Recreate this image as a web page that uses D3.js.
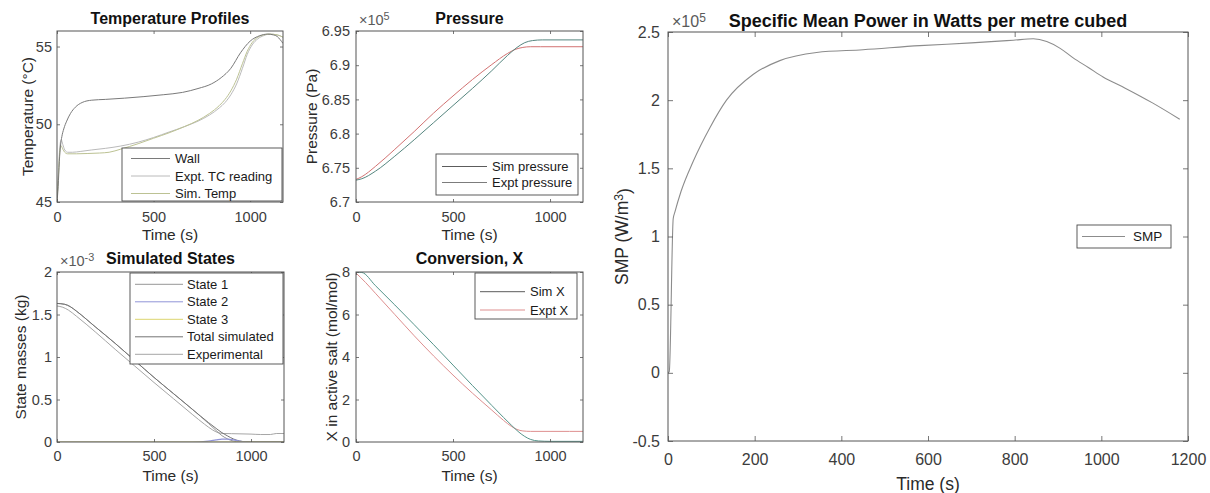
<!DOCTYPE html>
<html>
<head>
<meta charset="utf-8">
<script src="https://cdn.jsdelivr.net/npm/d3@7"></script>
<style>
  html, body { margin: 0; padding: 0; background: #fff; }
  svg { display: block; font-family: "Liberation Sans", Arial, Helvetica, sans-serif; }
</style>
</head>
<body>
<svg id="fig" width="1210" height="493"></svg>
<script>
// ---------- tick labels ----------
const timeTicksSmall = [0, 500, 1000];
const timeTicksLarge = [0, 200, 400, 600, 800, 1000, 1200];
const tempTicks = [45, 50, 55];
const pressureTicks = [6.7, 6.75, 6.8, 6.85, 6.9, 6.95];      // x 10^5 Pa
const massTicks = [0, 0.5, 1, 1.5, 2];                        // x 10^-3 kg
const conversionTicks = [0, 2, 4, 6, 8];
const smpTicks = [-0.5, 0, 0.5, 1, 1.5, 2, 2.5];              // x 10^5 W/m^3

// ---------- temperature profiles (deg C) ----------
const wallTime = [0, 6, 12, 18, 25, 35, 50, 70, 95, 130, 180, 250, 350, 450, 550, 650, 730, 800, 850, 900, 950, 1000, 1050, 1090, 1120, 1140, 1155, 1170];
const wallTemp = [45.0, 46.0, 47.6, 48.6, 49.2, 49.7, 50.2, 50.7, 51.1, 51.4, 51.55, 51.6, 51.68, 51.78, 51.9, 52.05, 52.3, 52.6, 53.0, 53.6, 54.6, 55.35, 55.7, 55.8, 55.75, 55.65, 55.45, 55.2];

const tcTime = [0, 8, 15, 22, 30, 40, 55, 80, 120, 180, 250, 330, 420, 500, 580, 660, 730, 790, 840, 870, 900, 930, 960, 985, 1010, 1040, 1070, 1100, 1140, 1170];
const tcTemp = [45.0, 47.0, 48.6, 49.0, 48.7, 48.35, 48.2, 48.2, 48.25, 48.35, 48.45, 48.6, 48.85, 49.15, 49.5, 49.85, 50.2, 50.6, 51.05, 51.4, 51.9, 52.6, 53.6, 54.5, 55.1, 55.5, 55.7, 55.8, 55.75, 55.6];

const simTempTime = [0, 8, 15, 22, 30, 40, 55, 100, 160, 220, 270, 330, 420, 500, 580, 660, 730, 790, 840, 870, 900, 930, 960, 985, 1010, 1040, 1070, 1100, 1140, 1170];
const simTemp = [45.0, 46.8, 48.3, 48.6, 48.4, 48.2, 48.1, 48.1, 48.12, 48.15, 48.2, 48.4, 48.75, 49.1, 49.45, 49.85, 50.25, 50.7, 51.2, 51.6, 52.15, 52.9, 53.9, 54.7, 55.25, 55.6, 55.75, 55.8, 55.75, 55.6];

// ---------- pressure (x 10^5 Pa) ----------
const simPressureTime = [0, 30, 100, 200, 300, 400, 500, 600, 700, 780, 830, 870, 910, 960, 1170];
const simPressure = [6.732, 6.734, 6.745, 6.767, 6.791, 6.816, 6.841, 6.866, 6.892, 6.914, 6.926, 6.933, 6.936, 6.937, 6.937];
const exptPressureTime = [0, 30, 100, 200, 300, 400, 500, 600, 700, 780, 820, 860, 900, 950, 1170];
const exptPressure = [6.733, 6.737, 6.752, 6.777, 6.803, 6.830, 6.855, 6.879, 6.901, 6.917, 6.923, 6.926, 6.927, 6.927, 6.927];

// ---------- simulated states (x 10^-3 kg) ----------
const stateTime = [0, 40, 70, 100, 200, 300, 400, 500, 600, 700, 780, 820, 850, 880, 910, 940, 970, 1000, 1050, 1100, 1170];
const state1 = [1.63, 1.62, 1.59, 1.54, 1.35, 1.16, 0.96, 0.76, 0.57, 0.38, 0.22, 0.135, 0.075, 0.035, 0.01, 0.002, 0, 0, 0, 0, 0];
const state2 = [0, 0, 0, 0, 0, 0, 0, 0, 0, 0, 0.01, 0.025, 0.035, 0.035, 0.025, 0.011, 0.003, 0, 0, 0, 0];
const state3 = [0, 0, 0, 0, 0, 0, 0, 0, 0, 0, 0, 0, 0, 0, 0, 0, 0, 0, 0, 0, 0];
const totalSimulated = [1.63, 1.62, 1.59, 1.54, 1.35, 1.16, 0.96, 0.76, 0.57, 0.38, 0.23, 0.16, 0.11, 0.07, 0.035, 0.013, 0.003, 0, 0, 0, 0];
const exptMassTime = [0, 30, 60, 100, 200, 300, 400, 500, 600, 700, 760, 800, 830, 860, 900, 1000, 1050, 1100, 1130, 1170];
const exptMass = [1.60, 1.585, 1.55, 1.48, 1.29, 1.09, 0.895, 0.70, 0.51, 0.32, 0.21, 0.145, 0.11, 0.10, 0.098, 0.093, 0.088, 0.088, 0.10, 0.10];

// ---------- conversion X (mol/mol) ----------
const simXTime = [0, 30, 100, 200, 300, 400, 500, 600, 700, 760, 800, 840, 870, 900, 940, 1000, 1170];
const simX = [8.0, 7.98, 7.36, 6.45, 5.52, 4.58, 3.62, 2.66, 1.72, 1.16, 0.8, 0.46, 0.26, 0.12, 0.05, 0.03, 0.03];
const exptXTime = [0, 50, 100, 200, 300, 400, 500, 600, 700, 760, 800, 830, 860, 900, 1000, 1100, 1170];
const exptX = [7.95, 7.5, 7.0, 6.0, 5.0, 4.05, 3.15, 2.3, 1.5, 1.02, 0.74, 0.59, 0.52, 0.5, 0.5, 0.5, 0.5];

// ---------- specific mean power (x 10^5 W/m^3) ----------
const smpTime = [0, 3, 12, 16, 30, 58, 97, 135, 197, 258, 343, 450, 581, 700, 797, 843, 874, 905, 935, 970, 1004, 1054, 1118, 1181];
const smp = [0, 0.01, 1.13, 1.18, 1.33, 1.55, 1.80, 2.0, 2.19, 2.29, 2.35, 2.37, 2.40, 2.42, 2.44, 2.45, 2.43, 2.38, 2.31, 2.24, 2.17, 2.09, 1.98, 1.86];

// ---------- drawing ----------
const svg = d3.select('#fig');
const defs = svg.append('defs');
const AXIS_COLOR = '#555555';
const TICK_TEXT = '#3c3c3c';
const fmt = d => String(d);

function makePanel(o) {
  const g = svg.append('g');
  const x = d3.scaleLinear().domain(o.xDomain).range([o.x0, o.x1]);
  const y = d3.scaleLinear().domain(o.yDomain).range([o.y1, o.y0]);
  const clipId = 'clip-' + o.id;
  defs.append('clipPath').attr('id', clipId).append('rect')
    .attr('x', o.x0).attr('y', o.y0).attr('width', o.x1 - o.x0).attr('height', o.y1 - o.y0);
  g.append('rect').attr('x', o.x0).attr('y', o.y0)
    .attr('width', o.x1 - o.x0).attr('height', o.y1 - o.y0).attr('fill', '#fff');
  const plot = g.append('g').attr('clip-path', `url(#${clipId})`);
  return { o, g, x, y, plot };
}

function addLine(p, xs, ys, color, width) {
  const line = d3.line().x(d => p.x(d[0])).y(d => p.y(d[1])).curve(d3.curveMonotoneX);
  p.plot.append('path').datum(d3.zip(xs, ys))
    .attr('d', line).attr('fill', 'none')
    .attr('stroke', color).attr('stroke-width', width || 1)
    .attr('stroke-linejoin', 'round');
}

function styleAxis(sel, fontSize) {
  sel.attr('font-family', null).attr('font-size', fontSize);
  sel.select('.domain').remove();
  sel.selectAll('line').attr('stroke', AXIS_COLOR).attr('stroke-width', 0.8);
  sel.selectAll('text').attr('fill', TICK_TEXT);
}

function finishPanel(p) {
  const o = p.o, g = p.g;
  const tl = o.tickLen;
  styleAxis(g.append('g').attr('transform', `translate(0,${o.y1})`)
    .call(d3.axisBottom(p.x).tickValues(o.xTicks).tickSize(-tl).tickPadding(o.xPad).tickFormat(fmt)), o.tickFont);
  styleAxis(g.append('g').attr('transform', `translate(0,${o.y0})`)
    .call(d3.axisTop(p.x).tickValues(o.xTicks).tickSize(-tl).tickFormat('')), o.tickFont);
  styleAxis(g.append('g').attr('transform', `translate(${o.x0},0)`)
    .call(d3.axisLeft(p.y).tickValues(o.yTicks).tickSize(-tl).tickPadding(o.yPad).tickFormat(fmt)), o.tickFont);
  styleAxis(g.append('g').attr('transform', `translate(${o.x1},0)`)
    .call(d3.axisRight(p.y).tickValues(o.yTicks).tickSize(-tl).tickFormat('')), o.tickFont);

  g.append('rect').attr('x', o.x0).attr('y', o.y0)
    .attr('width', o.x1 - o.x0).attr('height', o.y1 - o.y0)
    .attr('fill', 'none').attr('stroke', AXIS_COLOR).attr('stroke-width', 1);

  const cx = (o.x0 + o.x1) / 2, cy = (o.y0 + o.y1) / 2;
  g.append('text').attr('x', cx).attr('y', o.titleY).attr('text-anchor', 'middle')
    .attr('font-size', o.titleFont).attr('font-weight', 'bold').attr('fill', '#111')
    .text(o.title);
  g.append('text').attr('x', cx).attr('y', o.xLabelY).attr('text-anchor', 'middle')
    .attr('font-size', o.labelFont).attr('fill', '#2a2a2a').text(o.xLabel);

  const yl = g.append('text')
    .attr('transform', `translate(${o.yLabelX},${cy}) rotate(-90)`)
    .attr('text-anchor', 'middle').attr('font-size', o.labelFont).attr('fill', '#2a2a2a');
  yl.append('tspan').text(o.yLabel);
  if (o.yLabelSup) {
    yl.append('tspan').attr('dy', '-0.45em').attr('font-size', o.labelFont * 0.7).text(o.yLabelSup);
    yl.append('tspan').attr('dy', '0.45em').text(o.yLabelTail);
  }

  if (o.exponent) {
    const t = g.append('text').attr('x', o.x0 + o.expDx).attr('y', o.y0 - o.expDy)
      .attr('font-size', o.tickFont).attr('fill', '#5a5a5a');
    t.append('tspan').text('\u00d710');
    t.append('tspan').attr('dy', '-0.45em').attr('font-size', o.tickFont * 0.75).text(o.exponent);
  }
}

function addLegend(p, box, items, fontSize) {
  const g = p.g.append('g');
  g.append('rect').attr('x', box.x).attr('y', box.y).attr('width', box.w).attr('height', box.h)
    .attr('fill', '#fff').attr('stroke', '#4a4a4a').attr('stroke-width', 0.9);
  items.forEach((it, i) => {
    const yy = box.y + box.first + i * box.step;
    g.append('line').attr('x1', box.x + box.l0).attr('x2', box.x + box.l1)
      .attr('y1', yy).attr('y2', yy).attr('stroke', it.color).attr('stroke-width', 1);
    g.append('text').attr('x', box.x + box.tx).attr('y', yy).attr('dy', '0.35em')
      .attr('font-size', fontSize).attr('fill', '#1a1a1a').text(it.label);
  });
}

const small = { tickLen: 3, tickFont: 14.5, titleFont: 16, labelFont: 15.5 };

// Temperature profiles
const pT = makePanel(Object.assign({}, small, {
  id: 'temp', x0: 57, x1: 283, y0: 31, y1: 202,
  xDomain: [0, 1170], yDomain: [45, 56], xTicks: timeTicksSmall, yTicks: tempTicks,
  xPad: 10, yPad: 5, title: 'Temperature Profiles', titleY: 24,
  xLabel: 'Time (s)', xLabelY: 240, yLabel: 'Temperature (\u00b0C)', yLabelX: 33
}));
const cWall = '#7a7a7a', cTC = '#bababa', cSimT = '#bcc293';
addLine(pT, tcTime, tcTemp, cTC, 1);
addLine(pT, simTempTime, simTemp, cSimT, 1);
addLine(pT, wallTime, wallTemp, cWall, 1);
finishPanel(pT);
addLegend(pT, { x: 122, y: 148, w: 160, h: 53, first: 10.5, step: 17.5, l0: 9, l1: 48, tx: 53 },
  [{ label: 'Wall', color: cWall }, { label: 'Expt. TC reading', color: cTC }, { label: 'Sim. Temp', color: cSimT }], 13);

// Pressure
const pP = makePanel(Object.assign({}, small, {
  id: 'pres', x0: 356, x1: 583, y0: 31, y1: 202,
  xDomain: [0, 1170], yDomain: [6.7, 6.95], xTicks: timeTicksSmall, yTicks: pressureTicks,
  xPad: 10, yPad: 6, title: 'Pressure', titleY: 24,
  xLabel: 'Time (s)', xLabelY: 240, yLabel: 'Pressure (Pa)', yLabelX: 317,
  exponent: '5', expDx: 3, expDy: 6
}));
const cSimP = '#56867f', cExpP = '#d27272';
addLine(pP, exptPressureTime, exptPressure, cExpP, 1);
addLine(pP, simPressureTime, simPressure, cSimP, 1);
finishPanel(pP);
addLegend(pP, { x: 436, y: 154, w: 142, h: 41, first: 12.5, step: 16, l0: 6, l1: 51, tx: 56 },
  [{ label: 'Sim pressure', color: '#5c5c5c' }, { label: 'Expt pressure', color: '#7c7c7c' }], 13);

// Simulated states
const pS = makePanel(Object.assign({}, small, {
  id: 'states', x0: 57, x1: 284, y0: 272, y1: 442,
  xDomain: [0, 1170], yDomain: [0, 2], xTicks: timeTicksSmall, yTicks: massTicks,
  xPad: 9, yPad: 5, title: 'Simulated States', titleY: 264,
  xLabel: 'Time (s)', xLabelY: 481, yLabel: 'State masses (kg)', yLabelX: 26,
  exponent: '-3', expDx: 3, expDy: 6
}));
const cS1 = '#979797', cS2 = '#9194d8', cS3 = '#dcd56e', cTot = '#747474', cExpM = '#a6a6a6';
addLine(pS, exptMassTime, exptMass, cExpM, 1);
addLine(pS, stateTime, state1, cS1, 1);
addLine(pS, stateTime, totalSimulated, cTot, 1);
addLine(pS, stateTime, state2, cS2, 1.2);
addLine(pS, stateTime, state3, cS3, 1.2);
finishPanel(pS);
addLegend(pS, { x: 130, y: 273, w: 153, h: 91, first: 11.3, step: 17.5, l0: 5, l1: 53, tx: 57 },
  [{ label: 'State 1', color: cS1 }, { label: 'State 2', color: cS2 }, { label: 'State 3', color: cS3 },
   { label: 'Total simulated', color: cTot }, { label: 'Experimental', color: cExpM }], 13);

// Conversion X
const pX = makePanel(Object.assign({}, small, {
  id: 'conv', x0: 356, x1: 583, y0: 272, y1: 442,
  xDomain: [0, 1170], yDomain: [0, 8], xTicks: timeTicksSmall, yTicks: conversionTicks,
  xPad: 9, yPad: 6, title: 'Conversion, X', titleY: 264,
  xLabel: 'Time (s)', xLabelY: 481, yLabel: 'X in active salt (mol/mol)', yLabelX: 337
}));
const cSimX = '#55948a', cExpX = '#de8f8f';
addLine(pX, exptXTime, exptX, cExpX, 1);
addLine(pX, simXTime, simX, cSimX, 1);
finishPanel(pX);
addLegend(pX, { x: 475, y: 273, w: 102, h: 46, first: 18.7, step: 18.3, l0: 5, l1: 50, tx: 55 },
  [{ label: 'Sim X', color: '#5c5c5c' }, { label: 'Expt X', color: cExpX }], 13);

// Specific mean power
const pW = makePanel({
  id: 'smp', x0: 668, x1: 1188, y0: 32, y1: 441,
  tickLen: 5, tickFont: 16, titleFont: 18, labelFont: 17.5,
  xDomain: [0, 1200], yDomain: [-0.5, 2.5], xTicks: timeTicksLarge, yTicks: smpTicks,
  xPad: 13, yPad: 8, title: 'Specific Mean Power in Watts per metre cubed', titleY: 27,
  xLabel: 'Time (s)', xLabelY: 490, yLabel: 'SMP (W/m', yLabelSup: '3', yLabelTail: ')', yLabelX: 628,
  exponent: '5', expDx: 4, expDy: 5
});
const cSMP = '#8c8c8c';
addLine(pW, smpTime, smp, cSMP, 1.1);
finishPanel(pW);
addLegend(pW, { x: 1077, y: 225, w: 94, h: 23, first: 11.5, step: 0, l0: 5, l1: 48, tx: 56 },
  [{ label: 'SMP', color: cSMP }], 13.5);
</script>
</body>
</html>
